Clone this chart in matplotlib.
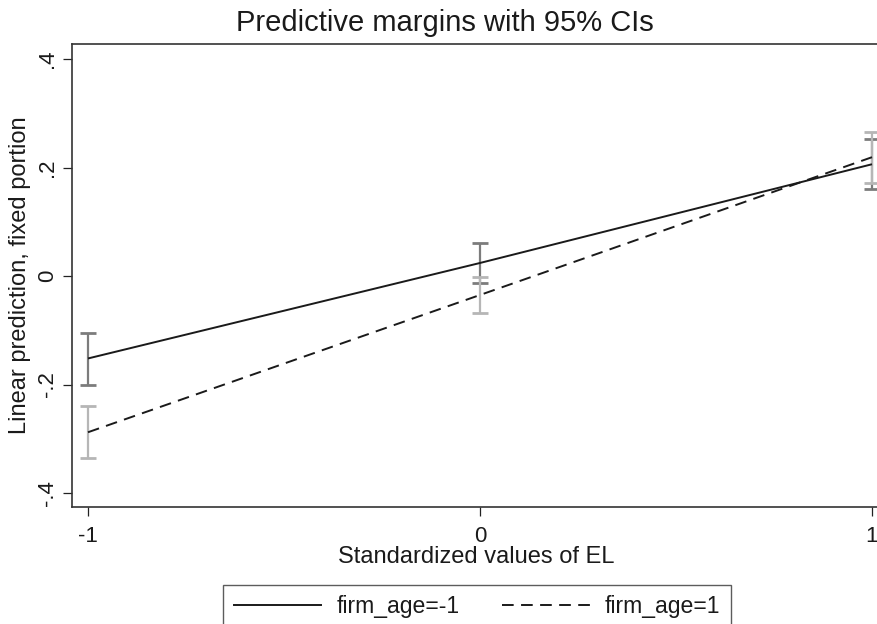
import matplotlib
matplotlib.use("Agg")
import matplotlib.pyplot as plt
from matplotlib.lines import Line2D

plt.rcParams['font.family'] = ['Liberation Sans', 'DejaVu Sans']

# Data
el_values = [-1, 0, 1]
young_margin = [-0.152, 0.024, 0.206]     # firm_age=-1
young_lo = [-0.200, -0.012, 0.160]
young_hi = [-0.105, 0.060, 0.252]
old_margin = [-0.288, -0.035, 0.219]      # firm_age=1
old_lo = [-0.336, -0.068, 0.172]
old_hi = [-0.239, -0.002, 0.265]
y_ticks = [-0.4, -0.2, 0, 0.2, 0.4]
y_tick_labels = ['-.4', '-.2', '0', '.2', '.4']
x_ticks = [-1, 0, 1]
x_tick_labels = ['-1', '0', '1']

W, H = 878, 624
fig = plt.figure(figsize=(W / 100, H / 100), dpi=100)
ax = fig.add_axes([72 / W, 1 - 507 / H, (880 - 72) / W, (507 - 44) / H])

dark_ci = '#7c7c7c'
light_ci = '#b6b6b6'

def draw_ci(x, m, lo, hi, color):
    yerr = [[mm - l for mm, l in zip(m, lo)], [h - mm for mm, h in zip(m, hi)]]
    eb = ax.errorbar(x, m, yerr=yerr, fmt='none', ecolor=color, elinewidth=1.6,
                     capsize=5.5, capthick=2.0, zorder=2)
    return eb

draw_ci(el_values, young_margin, young_lo, young_hi, dark_ci)
draw_ci(el_values, old_margin, old_lo, old_hi, light_ci)

ax.plot(el_values, young_margin, color='#1a1a1a', lw=1.4, zorder=3,
        solid_capstyle='butt')
ax.plot(el_values, old_margin, color='#1a1a1a', lw=1.4, zorder=3,
        dashes=(6.0, 3.8))

ax.set_xlim((72 - 480) / 392, (880 - 480) / 392)
ax.set_ylim((276 - 507) / 542.5, (276 - 44) / 542.5)

ax.set_xticks(x_ticks)
ax.set_xticklabels(x_tick_labels)
ax.set_yticks(y_ticks)
ax.set_yticklabels(y_tick_labels, rotation=90, va='center')

ax.tick_params(axis='both', direction='out', length=6.5, width=0.9,
               color='#222222', labelsize=16, labelcolor='#1a1a1a')
ax.tick_params(axis='x', pad=7.5)
ax.tick_params(axis='y', pad=3.5)

for side in ['left', 'bottom', 'top']:
    ax.spines[side].set_linewidth(1.2)
    ax.spines[side].set_color('#333333')
ax.spines['right'].set_visible(False)

ax.set_xlabel('Standardized values of EL', fontsize=17, color='#1a1a1a', labelpad=-0.8)
ax.set_ylabel('Linear prediction, fixed portion', fontsize=17, color='#1a1a1a', labelpad=4.5)

fig.text(445 / W, 1 - 23 / H, 'Predictive margins with 95% CIs', ha='center',
         va='center', fontsize=21, color='#1a1a1a')

handles = [Line2D([], [], color='#1a1a1a', lw=1.4),
           Line2D([], [], color='#1a1a1a', lw=1.4, dashes=(6.0, 3.8))]
leg = fig.legend(handles, ['firm_age=-1', 'firm_age=1'], ncol=2,
                 loc='upper center', bbox_to_anchor=(477 / W, 1 - 585 / H),
                 fontsize=16.6, frameon=True, fancybox=False, shadow=False,
                 handlelength=3.8, handletextpad=0.65, columnspacing=1.85,
                 borderpad=0.45, borderaxespad=0)
leg.get_frame().set_edgecolor('#333333')
leg.get_frame().set_linewidth(1.0)
for t in leg.get_texts():
    t.set_color('#1a1a1a')

fig.savefig('out.png', dpi=100)
